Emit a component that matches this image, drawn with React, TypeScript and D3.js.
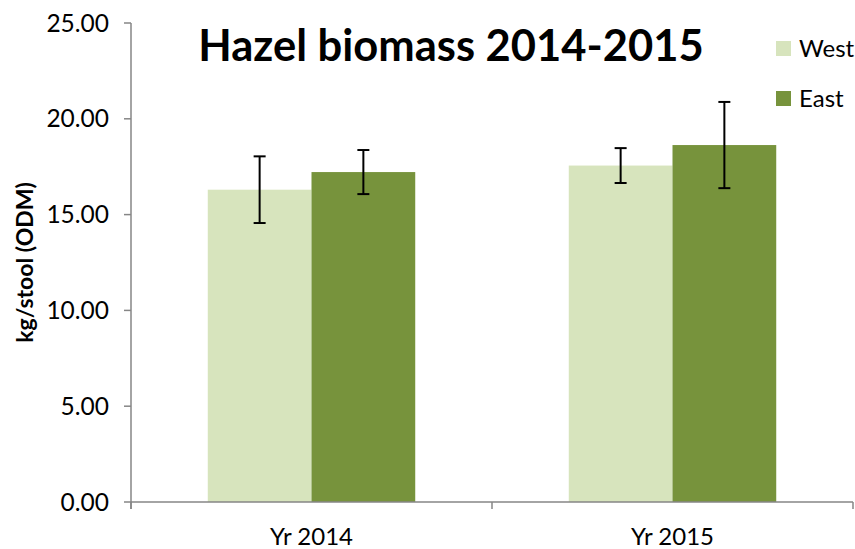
import React from "react";
import * as d3 from "d3";

const years = ["Yr 2014", "Yr 2015"];
const series = ["West", "East"];
const westValues = [16.3, 17.56];
const eastValues = [17.22, 18.63];
const westErr = [1.74, 0.91];
const eastErr = [1.15, 2.25];
const yTicks = [0, 5, 10, 15, 20, 25];

const colors = { West: "#d7e4bd", East: "#77933c" };

const width = 855;
const height = 549;
const margin = { left: 131, right: 2, top: 23, bottom: 47 };

export default function App() {
  const x0 = d3
    .scaleBand()
    .domain(years)
    .range([margin.left, width - margin.right])
    .paddingInner(0)
    .paddingOuter(0);
  const x1 = d3
    .scaleBand()
    .domain(series)
    .range([0, x0.bandwidth()])
    .paddingOuter(0.74)
    .paddingInner(0);
  const y = d3
    .scaleLinear()
    .domain([0, 25])
    .range([height - margin.bottom, margin.top]);

  const rows = years.map((yr, i) => ({
    yr,
    bars: [
      { key: "West", value: westValues[i], err: westErr[i] },
      { key: "East", value: eastValues[i], err: eastErr[i] },
    ],
  }));

  const font = "Lato, 'Open Sans', sans-serif";
  const axisColor = "#868686";
  const y0 = y(0);

  return (
    <svg
      width={width}
      height={height}
      style={{ position: "absolute", left: 0, top: 0, background: "#fff" }}
      fontFamily={font}
    >
      {/* bars */}
      {rows.map((r) =>
        r.bars.map((b) => {
          const bx = (x0(r.yr) as number) + (x1(b.key) as number);
          return (
            <rect
              key={r.yr + b.key}
              x={bx}
              y={y(b.value)}
              width={x1.bandwidth()}
              height={y0 - y(b.value)}
              fill={colors[b.key as "West" | "East"]}
            />
          );
        })
      )}
      {/* error bars */}
      {rows.map((r) =>
        r.bars.map((b) => {
          const cx = (x0(r.yr) as number) + (x1(b.key) as number) + x1.bandwidth() / 2;
          const top = y(b.value + b.err);
          const bot = y(b.value - b.err);
          return (
            <g key={"e" + r.yr + b.key} stroke="#000" strokeWidth={2}>
              <line x1={cx} x2={cx} y1={top} y2={bot} />
              <line x1={cx - 6} x2={cx + 6} y1={top} y2={top} />
              <line x1={cx - 6} x2={cx + 6} y1={bot} y2={bot} />
            </g>
          );
        })
      )}
      {/* y axis */}
      <line x1={margin.left} x2={margin.left} y1={y(25)} y2={y0 + 7} stroke={axisColor} strokeWidth={1.5} />
      {yTicks.map((t) => (
        <g key={t}>
          <line x1={margin.left - 7} x2={margin.left} y1={y(t)} y2={y(t)} stroke={axisColor} strokeWidth={1.5} />
          <text x={109} y={y(t)} dy="0.35em" textAnchor="end" fontSize={24.5} fill="#000">
            {t.toFixed(2)}
          </text>
        </g>
      ))}
      {/* x axis */}
      <line x1={margin.left} x2={width - margin.right} y1={y0} y2={y0} stroke={axisColor} strokeWidth={1.5} />
      {[...years.map((yr) => x0(yr) as number), width - margin.right].map((tx, i) => (
        <line key={i} x1={tx} x2={tx} y1={y0} y2={y0 + 7} stroke={axisColor} strokeWidth={1.5} />
      ))}
      {years.map((yr) => (
        <text
          key={yr}
          x={(x0(yr) as number) + x0.bandwidth() / 2}
          y={537}
          dy="0.35em"
          textAnchor="middle"
          fontSize={24}
          fill="#000"
        >
          {yr}
        </text>
      ))}
      {/* y axis title */}
      <text
        transform={`translate(25,${(y(25) + y0) / 2}) rotate(-90)`}
        dy="0.35em"
        textAnchor="middle"
        fontSize={23}
        fontWeight="bold"
        fill="#000"
      >
        kg/stool (ODM)
      </text>
      {/* title */}
      <text x={451} y={61} textAnchor="middle" fontSize={43.5} fontWeight="bold" fill="#000">
        Hazel biomass 2014-2015
      </text>
      {/* legend */}
      {series.map((s, i) => (
        <g key={s} transform={`translate(776,${41 + i * 50})`}>
          <rect width={15} height={15} fill={colors[s as "West" | "East"]} />
          <text x={23} y={8} dy="0.35em" fontSize={24} fill="#000">
            {s}
          </text>
        </g>
      ))}
    </svg>
  );
}
